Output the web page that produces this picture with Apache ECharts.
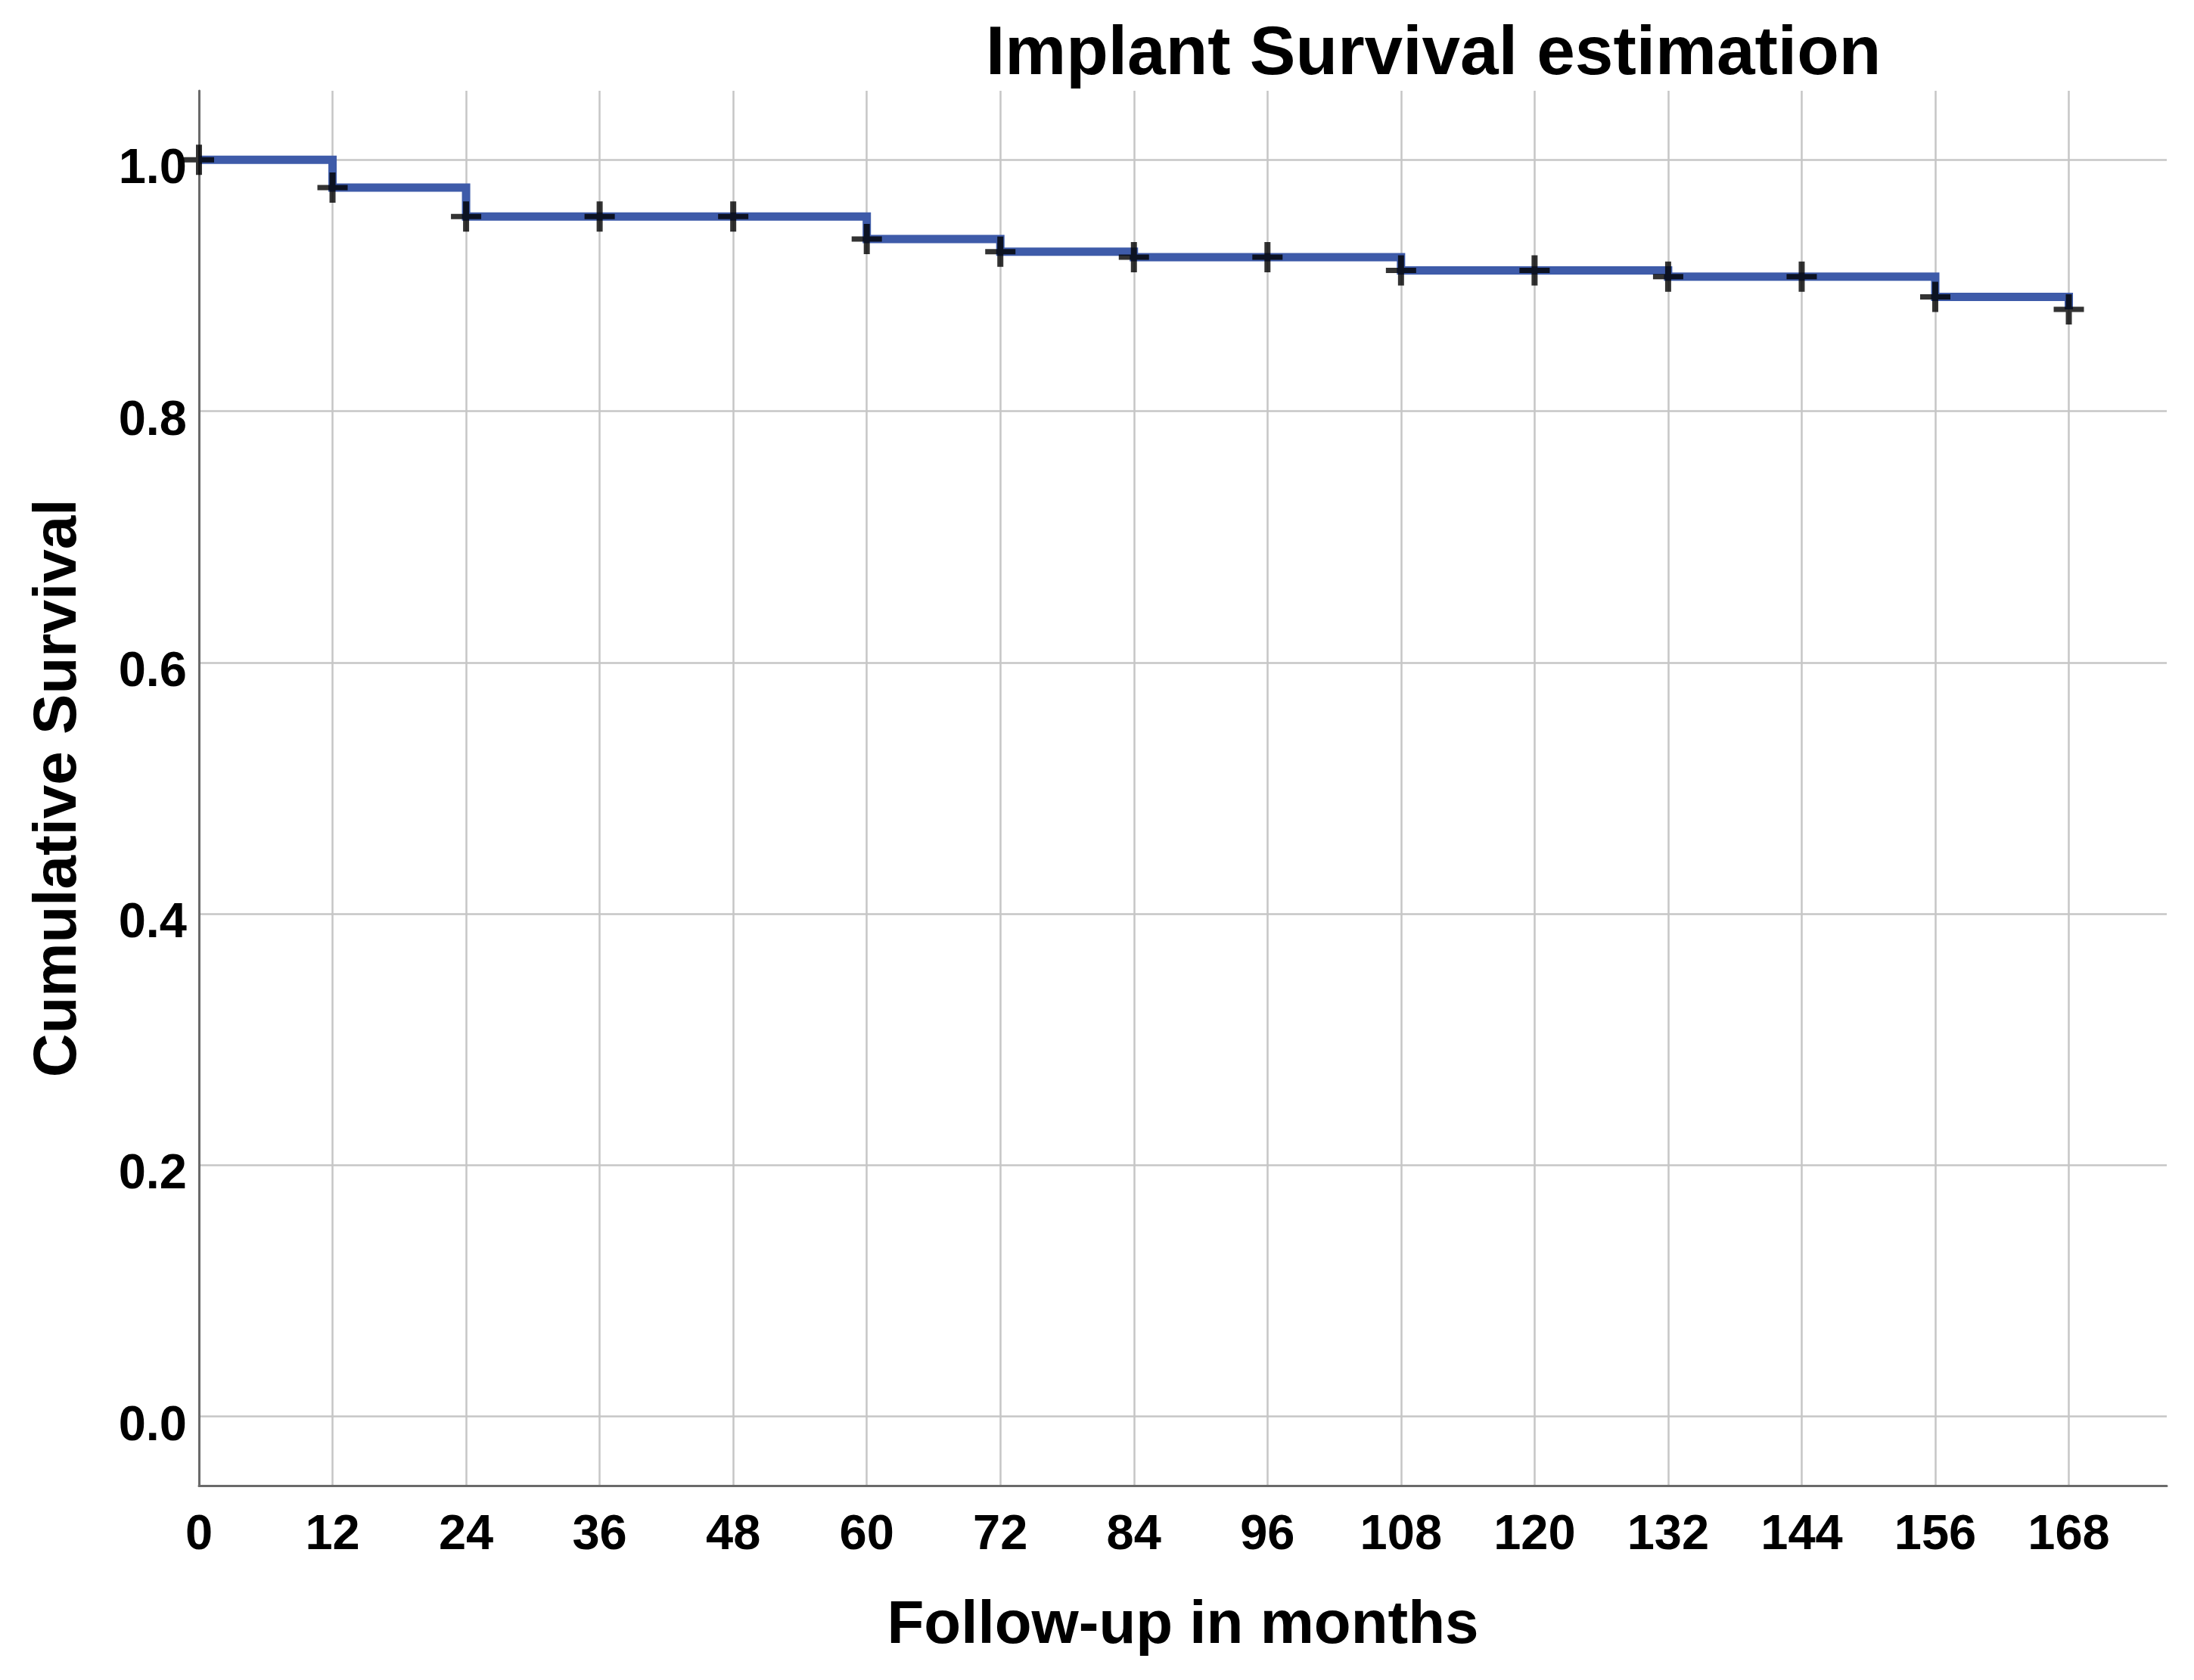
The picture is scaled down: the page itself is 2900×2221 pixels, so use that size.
<!DOCTYPE html>
<html>
<head>
<meta charset="utf-8">
<script src="https://cdn.jsdelivr.net/npm/echarts@6/dist/echarts.min.js"></script>
<style>
html,body{margin:0;padding:0;background:#fff;}
#chart{width:2900px;height:2221px;}
</style>
</head>
<body>
<div id="chart"></div>
<script>
// Kaplan-Meier step points (time in months, cumulative survival)
var stepTimes = [0, 12, 24, 60, 72, 84, 108, 132, 156, 168];
var stepSurv  = [1.0, 0.978, 0.955, 0.937, 0.927, 0.9225, 0.912, 0.907, 0.891, 0.881];
// Censored observations (crosses)
var censorTimes = [0, 12, 24, 36, 48, 60, 72, 84, 96, 108, 120, 132, 144, 156, 168];
var censorSurv  = [1.0, 0.978, 0.955, 0.955, 0.955, 0.937, 0.927, 0.9225, 0.9225, 0.912, 0.912, 0.907, 0.907, 0.891, 0.881];
// Axis ticks
var xTicks = [0, 12, 24, 36, 48, 60, 72, 84, 96, 108, 120, 132, 144, 156, 168];
var yTicks = [0, 0.2, 0.4, 0.6, 0.8, 1.0];

var FONT = '"Liberation Sans", Arial, sans-serif';
var chart = echarts.init(document.getElementById('chart'), null, {renderer: 'canvas'});

var stepData = stepTimes.map(function (t, i) { return [t, stepSurv[i]]; });
var censorData = censorTimes.map(function (t, i) { return [t, censorSurv[i]]; });

var crossPath = 'path://M-4,-20 L4,-20 L4,-3.5 L20,-3.5 L20,3.5 L4,3.5 L4,20 L-4,20 L-4,3.5 L-20,3.5 L-20,-3.5 L-4,-3.5 Z';

chart.setOption({
  backgroundColor: '#ffffff',
  animation: false,
  title: {
    text: 'Implant Survival estimation',
    left: 1303,
    top: 27,
    padding: 0,
    textStyle: {fontFamily: FONT, fontWeight: 'bold', fontSize: 91, color: '#000'}
  },
  grid: {left: 263, right: 36, top: 120, bottom: 257, containLabel: false},
  xAxis: {
    type: 'value',
    min: 0,
    max: 176.8,
    name: 'Follow-up in months',
    nameLocation: 'middle',
    nameGap: 146,
    nameTextStyle: {fontFamily: FONT, fontWeight: 'bold', fontSize: 80, color: '#000'},
    axisLine: {show: true, onZero: false, lineStyle: {color: '#6a6a6a', width: 3}},
    axisTick: {show: false, customValues: xTicks},
    axisLabel: {
      customValues: xTicks,
      margin: 34,
      fontFamily: FONT, fontWeight: 'bold', fontSize: 65, color: '#000'
    },
    splitLine: {show: true, lineStyle: {color: '#c6c6c6', width: 2.5}}
  },
  yAxis: {
    type: 'value',
    min: -0.055,
    max: 1.055,
    name: 'Cumulative Survival',
    nameLocation: 'middle',
    nameGap: 145,
    nameRotate: 90,
    nameTextStyle: {fontFamily: FONT, fontWeight: 'bold', fontSize: 80, color: '#000'},
    axisLine: {show: true, onZero: false, lineStyle: {color: '#6a6a6a', width: 3}},
    axisTick: {show: false, customValues: yTicks},
    axisLabel: {
      customValues: yTicks,
      margin: 16,
      verticalAlign: 'top',
      lineHeight: 26,
      formatter: function (v) { return v.toFixed(1); },
      fontFamily: FONT, fontWeight: 'bold', fontSize: 65, color: '#000'
    },
    splitLine: {show: true, lineStyle: {color: '#c6c6c6', width: 2.5}}
  },
  series: [
    {
      type: 'line',
      step: 'end',
      data: stepData,
      showSymbol: false,
      lineStyle: {color: '#3E5BA9', width: 11, cap: 'butt', join: 'miter'},
      z: 3
    },
    {
      type: 'scatter',
      data: censorData,
      symbol: crossPath,
      symbolSize: 40,
      itemStyle: {color: '#000'},
      z: 4
    }
  ]
});
</script>
</body>
</html>
